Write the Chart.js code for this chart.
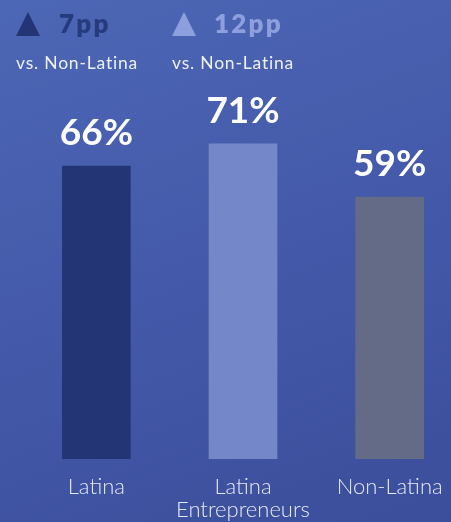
<!DOCTYPE html>
<html>
<head>
<meta charset="utf-8">
<script src="https://cdn.jsdelivr.net/npm/chart.js@4"></script>
<style>
  html, body { margin: 0; padding: 0; }
  body {
    width: 451px; height: 522px; overflow: hidden; position: relative;
    background: linear-gradient(160deg, #4c67b5 0%, #4459a9 50%, #3a4e9b 100%);
    font-family: Lato, "Open Sans", sans-serif;
  }
  #wrap { position: absolute; left: 0; top: 0; width: 480px; height: 522px; }
  .hdr { position: absolute; top: 7px; font-weight: 800; font-size: 26px; letter-spacing: 2.2px; }
  .tri { position: absolute; top: 12px; width: 24px; height: 24px;
         clip-path: polygon(50% 0, 100% 100%, 0 100%); }
  .sub { position: absolute; top: 52px; font-size: 17.5px; color: #eef0f8; font-weight: 400; letter-spacing: 0.8px; }
</style>
</head>
<body>
<div id="wrap"><canvas id="c" width="480" height="522"></canvas></div>
<div class="tri" style="left:16px;background:#233575"></div>
<div class="hdr" style="left:59px;color:#263a7e">7pp</div>
<div class="sub" style="left:16px">vs. Non-Latina</div>
<div class="tri" style="left:172px;background:#8e9fdd"></div>
<div class="hdr" style="left:214px;color:#8e9fdd">12pp</div>
<div class="sub" style="left:172px">vs. Non-Latina</div>
<script>
// Share of respondents, by group
const categories = [["Latina"], ["Latina", "Entrepreneurs"], ["Non-Latina"]];
const values = [66, 71, 59];
const barColors = ["#233575", "#7487c8", "#646b87"];

// Draws the percentage above each bar
const valueLabels = {
  id: "valueLabels",
  afterDatasetsDraw(chart) {
    const ctx = chart.ctx;
    const meta = chart.getDatasetMeta(0);
    ctx.save();
    ctx.fillStyle = "#ffffff";
    ctx.textAlign = "center";
    ctx.textBaseline = "alphabetic";
    ctx.font = "bold 37px Lato, 'Open Sans', sans-serif";
    meta.data.forEach((bar, i) => {
      ctx.fillText(values[i] + "%", bar.x, bar.y - 21);
    });
    ctx.restore();
  }
};

new Chart(document.getElementById("c"), {
  type: "bar",
  data: {
    labels: categories,
    datasets: [{
      data: values,
      backgroundColor: barColors,
      borderWidth: 0,
      barThickness: 68
    }]
  },
  options: {
    responsive: false,
    animation: false,
    layout: { padding: { left: 23, right: 17, top: 15, bottom: 0 } },
    plugins: { legend: { display: false }, tooltip: { enabled: false } },
    scales: {
      y: { display: false, min: 0, max: 100 },
      x: {
        grid: { display: false, drawTicks: false },
        border: { display: false },
        afterFit(scale) { scale.height = 63; },
        ticks: {
          color: "#e6e9f4",
          padding: 16,
          maxRotation: 0,
          autoSkip: false,
          font: { family: "Lato, 'Open Sans', sans-serif", size: 22, weight: "300", lineHeight: 1.05 }
        }
      }
    }
  },
  plugins: [valueLabels]
});
</script>
</body>
</html>
